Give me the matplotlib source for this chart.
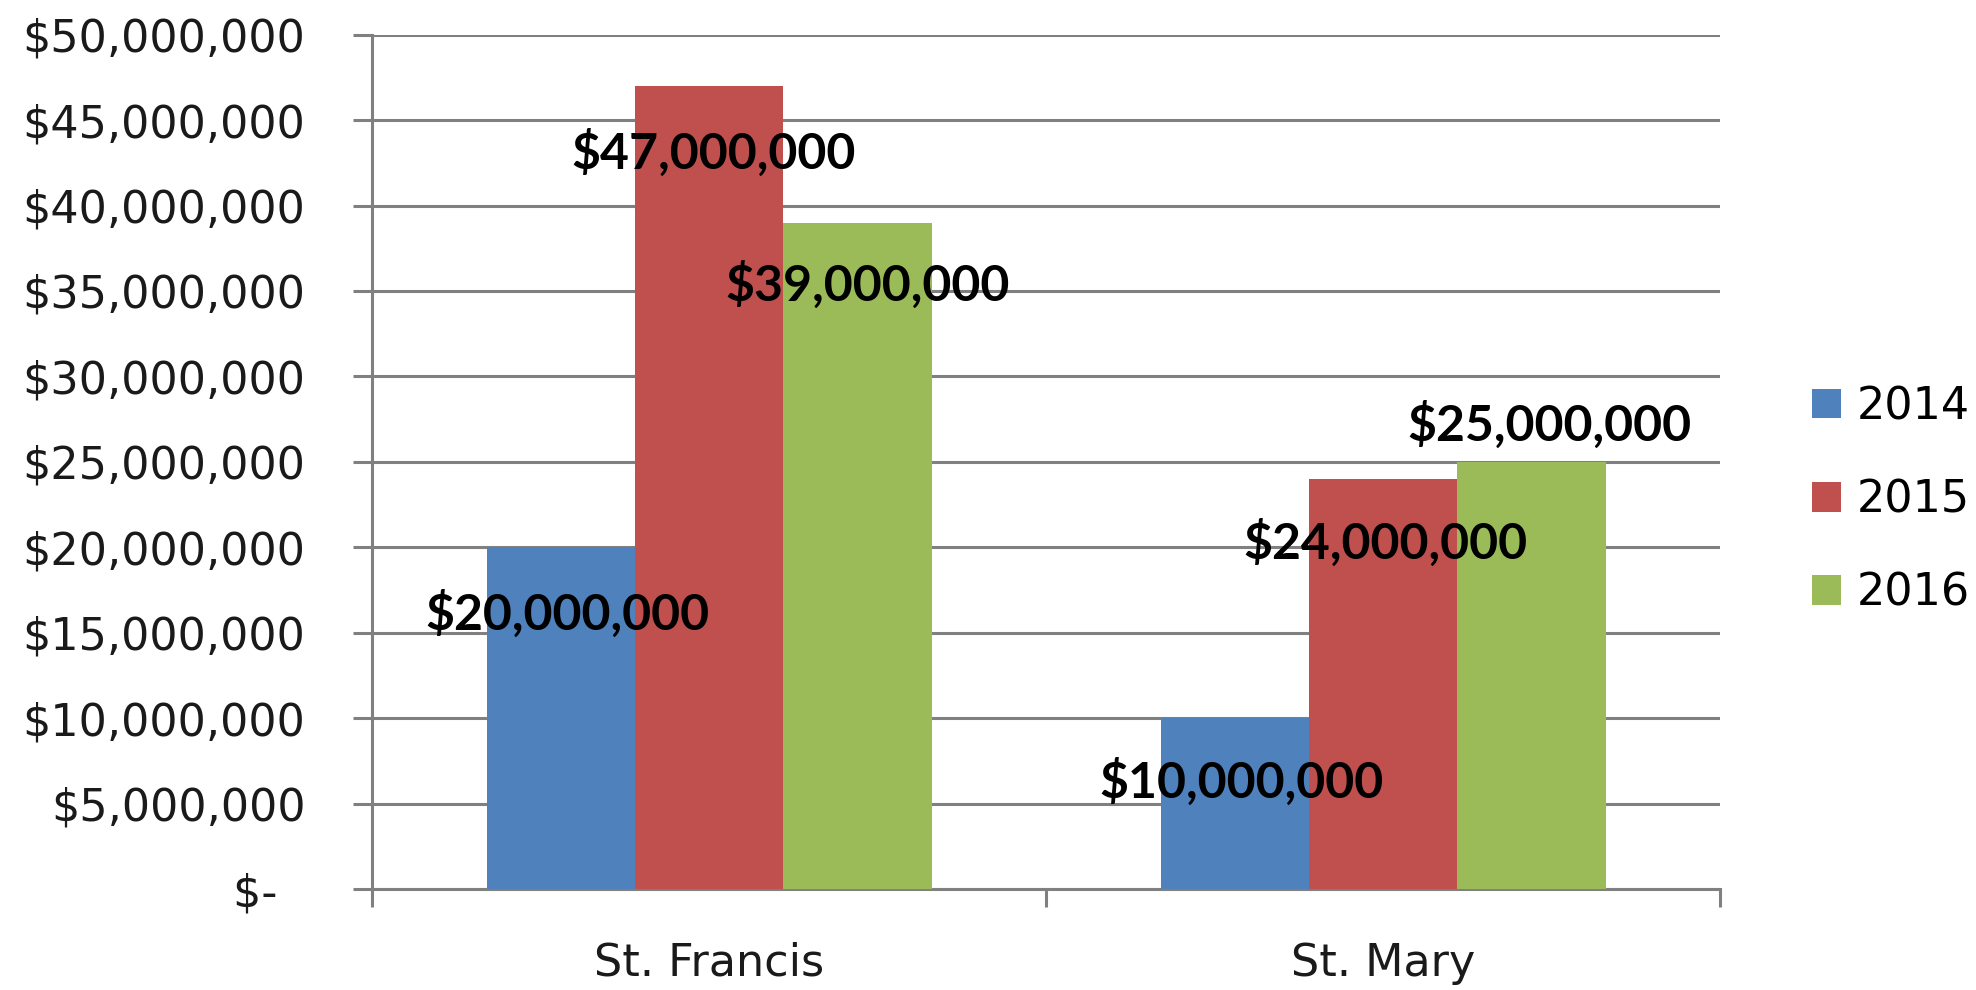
import numpy as np
import matplotlib.pyplot as plt
from matplotlib.ticker import FuncFormatter

# Hospital funding by year
hospitals = ['St. Francis', 'St. Mary']
years = ['2014', '2015', '2016']
values_2014 = [20000000, 10000000]
values_2015 = [47000000, 24000000]
values_2016 = [39000000, 25000000]
yticks = np.arange(0, 50000001, 5000000)

series = [values_2014, values_2015, values_2016]
colors = ['#4F81BD', '#C0504D', '#9BBB59']

# label offsets in points (dx, dy) from the top of each bar
label_offsets = [
    [(5, -48), (5, -46)],
    [(3, -48), (2, -46)],
    [(7, -45), (13, 27)],
]

fig = plt.figure(figsize=(19.76, 9.9), dpi=100)
ax = fig.add_axes([0.1883, 0.102, 0.6822, 0.863])

x = np.arange(len(hospitals))
width = 0.22
for i, (vals, col) in enumerate(zip(series, colors)):
    pos = x + (i - 1) * width
    ax.bar(pos, vals, width=width, color=col, label=years[i], zorder=3)
    for j, v in enumerate(vals):
        dx, dy = label_offsets[i][j]
        ax.annotate(f'${v:,.0f}', xy=(pos[j], v), xytext=(dx, dy),
                    textcoords='offset points', ha='center', va='center',
                    fontsize=36, fontweight='bold', family='Lato',
                    color='black', zorder=5)

gray = '#808080'
ax.set_xlim(-0.5, 1.5)
ax.set_ylim(0, 50000000)
ax.set_yticks(yticks)
ax.yaxis.set_major_formatter(FuncFormatter(
    lambda v, p: '$-  ' if v == 0 else f'${v:,.0f}'))
ax.yaxis.grid(True, color=gray, linewidth=2.2, zorder=0)
ax.set_axisbelow(True)

ax.set_xticks(x)
ax.set_xticklabels(hospitals)
ax.set_xticks([-0.5, 0.5, 1.5], minor=True)
ax.tick_params(axis='x', which='major', length=0, pad=38, labelsize=32,
               labelcolor='#1a1a1a')
ax.tick_params(axis='x', which='minor', length=13, width=2.2, color=gray,
               direction='out')
ax.tick_params(axis='y', length=14, width=2.2, color=gray, pad=34,
               labelsize=32, labelcolor='#1a1a1a')

for side in ['top', 'right']:
    ax.spines[side].set_visible(False)
for side in ['left', 'bottom']:
    ax.spines[side].set_color(gray)
    ax.spines[side].set_linewidth(2.2)

fig.legend(loc='center left', bbox_to_anchor=(0.917, 0.495), frameon=False,
           fontsize=32, handlelength=0.65, handleheight=0.65,
           handletextpad=0.36, labelspacing=1.13, borderpad=0,
           borderaxespad=0)

plt.savefig('out.png', dpi=100)
